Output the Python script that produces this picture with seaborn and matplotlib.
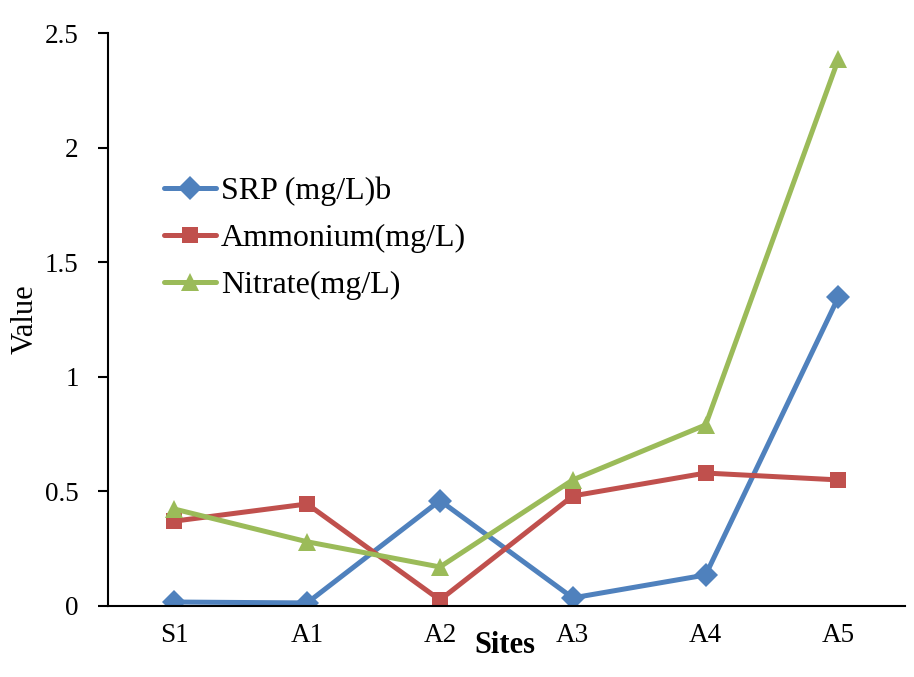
import numpy as np
import pandas as pd
import matplotlib
matplotlib.use('Agg')
import matplotlib.pyplot as plt
import seaborn as sns

sites = ['S1', 'A1', 'A2', 'A3', 'A4', 'A5']
srp = [0.017, 0.013, 0.46, 0.035, 0.135, 1.348]
ammonium = [0.37, 0.445, 0.026, 0.48, 0.58, 0.55]
nitrate = [0.423, 0.28, 0.17, 0.55, 0.79, 2.387]
series_names = ['SRP (mg/L)b', 'Ammonium(mg/L)', 'Nitrate(mg/L)']
y_ticks = [0, 0.5, 1, 1.5, 2, 2.5]
y_tick_labels = ['0', '0.5', '1', '1.5', '2', '2.5']

sns.set_style('white')
plt.rcParams['font.family'] = ['Liberation Serif', 'DejaVu Serif']
plt.rcParams['text.color'] = 'black'
plt.rcParams['xtick.color'] = 'black'
plt.rcParams['ytick.color'] = 'black'

colors = ['#4F81BD', '#C0504D', '#9BBB59']
markers = ['D', 's', '^']
msizes = [12, 12, 13]

fig = plt.figure(figsize=(9.14, 6.77), dpi=100)
ax = fig.add_axes([0.118, 0.105, 0.872, 0.846])

for vals, name, c, m, ms in zip([srp, ammonium, nitrate], series_names, colors, markers, msizes):
    df = pd.DataFrame({'Sites': sites, 'Value': vals})
    sns.lineplot(data=df, x='Sites', y='Value', ax=ax, color=c, marker=m,
                 markersize=ms, markeredgewidth=0, linewidth=3.6, label=name, sort=False)

ax.set_xlim(-0.5, len(sites) - 0.5)
ax.set_ylim(0, 2.5)
ax.set_yticks(y_ticks)
ax.set_yticklabels(y_tick_labels, fontsize=19.5)
ax.set_xticks(range(len(sites)))
ax.set_xticklabels(sites, fontsize=19.5)
ax.set_xticks(np.arange(-0.5, len(sites)), minor=True)
ax.tick_params(axis='x', which='major', length=0, pad=12)
ax.tick_params(axis='x', which='minor', length=7, width=1.5, direction='out')
ax.tick_params(axis='y', length=7, width=1.5, direction='out', left=True, pad=14)

for s in ['top', 'right']:
    ax.spines[s].set_visible(False)
for s in ['left', 'bottom']:
    ax.spines[s].set_color('black')
    ax.spines[s].set_linewidth(1.5)

ax.set_xlabel('')
ax.set_ylabel('')
fig.text(0.552, 0.047, 'Sites', fontsize=22, fontweight='bold', ha='center', va='center')
fig.text(0.028, 0.528, 'Value', fontsize=22, rotation=90, ha='center', va='center')

leg = ax.legend(loc='upper left', bbox_to_anchor=(0.165, 0.758), bbox_transform=fig.transFigure,
                frameon=False, fontsize=23, handlelength=1.65, handletextpad=0.15,
                labelspacing=0.55, borderaxespad=0)

fig.savefig('out.png', dpi=100)
